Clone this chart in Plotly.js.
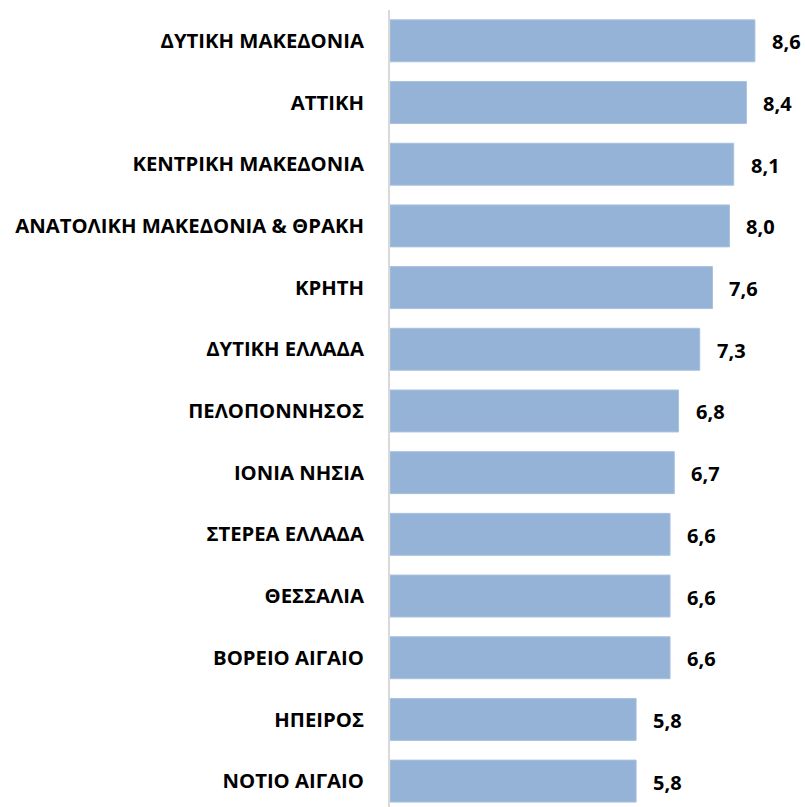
<!DOCTYPE html>
<html>
<head>
<meta charset="utf-8">
<script src="https://cdn.plot.ly/plotly-3.0.1.min.js"></script>
<style>html,body{margin:0;padding:0;background:#fff;overflow:hidden}</style>
</head>
<body>
<div id="chart" style="width:805px;height:807px"></div>
<script>
const regions = ["ΔΥΤΙΚΗ ΜΑΚΕΔΟΝΙΑ","ΑΤΤΙΚΗ","ΚΕΝΤΡΙΚΗ ΜΑΚΕΔΟΝΙΑ","ΑΝΑΤΟΛΙΚΗ ΜΑΚΕΔΟΝΙΑ & ΘΡΑΚΗ","ΚΡΗΤΗ","ΔΥΤΙΚΗ ΕΛΛΑΔΑ","ΠΕΛΟΠΟΝΝΗΣΟΣ","ΙΟΝΙΑ ΝΗΣΙΑ","ΣΤΕΡΕΑ ΕΛΛΑΔΑ","ΘΕΣΣΑΛΙΑ","ΒΟΡΕΙΟ ΑΙΓΑΙΟ","ΗΠΕΙΡΟΣ","ΝΟΤΙΟ ΑΙΓΑΙΟ"];
const values = [8.6,8.4,8.1,8.0,7.6,7.3,6.8,6.7,6.6,6.6,6.6,5.8,5.8];

const font = "'Open Sans', 'Noto Sans', sans-serif";
const annotations = values.map((v,i)=>({
  x: v, y: regions[i], xref:'x', yref:'y',
  text: '<b>' + v.toFixed(1).replace('.', ',') + '</b>',
  showarrow:false, xanchor:'left', yanchor:'middle', xshift:15, yshift:-1,
  font:{family:font, size:20, color:'#000'}
}));

Plotly.newPlot('chart', [{
  type:'bar', orientation:'h',
  x: values, y: regions,
  marker:{color:'#95B3D7', line:{color:'#A9C1DF', width:1}},
  hoverinfo:'none'
}], {
  width:805, height:807,
  margin:{l:390, r:0, t:10, b:0},
  paper_bgcolor:'#fff', plot_bgcolor:'#fff',
  bargap:0.32,
  showlegend:false,
  xaxis:{range:[0,9.78], visible:false, fixedrange:true},
  yaxis:{
    type:'category', range:[12.42,-0.5],
    showline:true, linecolor:'#D9D9D9', linewidth:2,
    showgrid:false, zeroline:false, ticks:'',
    ticklabelstandoff:20,
    tickfont:{family:font, size:20.3, color:'#000', weight:'bold'}
  },
  annotations: annotations
}, {displayModeBar:false, staticPlot:true});
</script>
</body>
</html>
